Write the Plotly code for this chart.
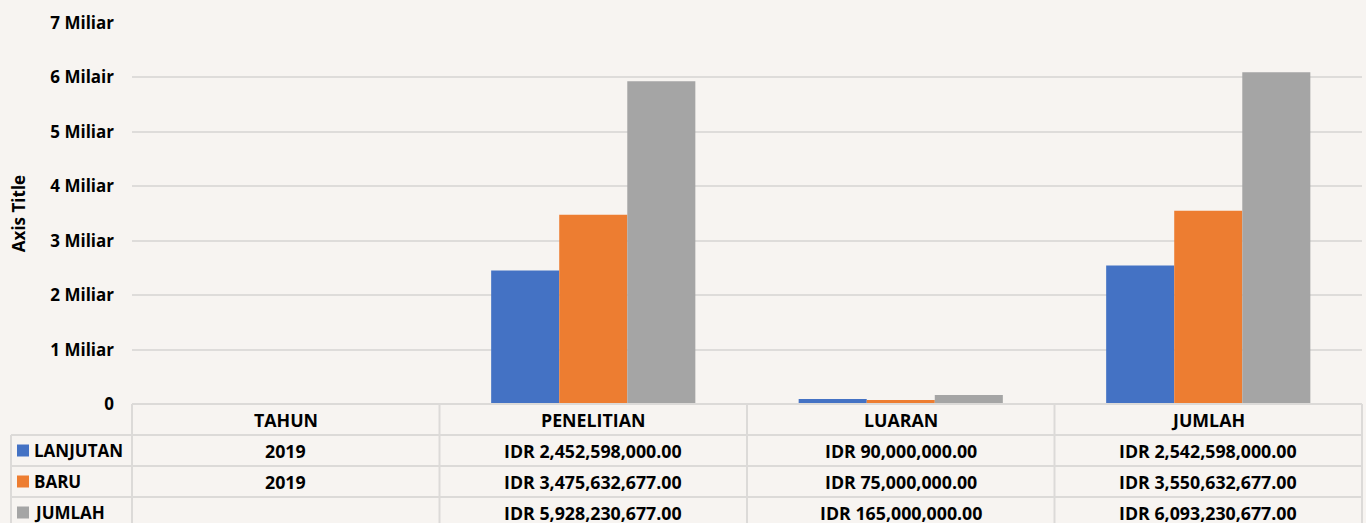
import plotly.graph_objects as go

categories = ["TAHUN", "PENELITIAN", "LUARAN", "JUMLAH"]
series_names = ["LANJUTAN", "BARU", "JUMLAH"]
lanjutan = [2019, 2452598000.00, 90000000.00, 2542598000.00]
baru = [2019, 3475632677.00, 75000000.00, 3550632677.00]
jumlah = [None, 5928230677.00, 165000000.00, 6093230677.00]
colors = ["#4472C4", "#ED7D31", "#A5A5A5"]
tick_vals = [0, 1e9, 2e9, 3e9, 4e9, 5e9, 6e9, 7e9]
tick_text = ["0", "1 Miliar", "2 Miliar", "3 Miliar", "4 Miliar", "5 Miliar", "6 Milair", "7 Miliar"]

W, H = 1366, 523
ML, MR, MT, MB = 132, 4, 23, 119
PW = W - ML - MR
PH = H - MT - MB
ROW = 31
FONT = "Open Sans"
BG = "#F7F4F1"
LINE = "#DCDAD8"


def fmt(v, is_year=False):
    if v is None:
        return ""
    if is_year:
        return str(int(v))
    return "IDR {:,.2f}".format(v)


def px_x(p):
    return (p - ML) / PW


def px_y(p):
    return (H - MB - p) / PH


fig = go.Figure()
all_series = [lanjutan, baru, jumlah]
for name, vals, c in zip(series_names, all_series, colors):
    fig.add_trace(go.Bar(x=categories, y=vals, name=name, marker=dict(color=c, line=dict(width=0))))

shapes = []
annotations = []
ncat = len(categories)
axis_px = H - MB
table_bottom = H + 5
# horizontal lines
shapes.append(dict(type="line", xref="paper", yref="paper", x0=0, x1=1,
                   y0=px_y(axis_px), y1=px_y(axis_px), line=dict(color=LINE, width=2)))
for r in range(1, 4):
    yy = px_y(axis_px + r * ROW)
    shapes.append(dict(type="line", xref="paper", yref="paper", x0=px_x(11), x1=1,
                       y0=yy, y1=yy, line=dict(color=LINE, width=2)))
# vertical lines
for i in range(ncat + 1):
    xx = i / ncat
    shapes.append(dict(type="line", xref="paper", yref="paper", x0=xx, x1=xx,
                       y0=px_y(axis_px), y1=px_y(table_bottom), line=dict(color=LINE, width=2)))
shapes.append(dict(type="line", xref="paper", yref="paper", x0=px_x(11), x1=px_x(11),
                   y0=px_y(axis_px + ROW), y1=px_y(table_bottom), line=dict(color=LINE, width=2)))

tfont = dict(family=FONT, size=17.8, color="#000000", weight="bold")
lfont = dict(family=FONT, size=17, color="#000000", weight="bold")
# header
for i, cat in enumerate(categories):
    annotations.append(dict(xref="paper", yref="paper", x=(i + 0.5) / ncat, y=px_y(axis_px + ROW / 2),
                            text=cat, showarrow=False, font=tfont, xanchor="center", yanchor="middle"))
# rows
for r, (name, vals, c) in enumerate(zip(series_names, all_series, colors)):
    yc = px_y(axis_px + ROW * (r + 1) + ROW / 2)
    shapes.append(dict(type="rect", xref="paper", yref="paper", x0=px_x(17), x1=px_x(29),
                       y0=yc - 6 / PH, y1=yc + 6 / PH, fillcolor=c, line=dict(width=0)))
    annotations.append(dict(xref="paper", yref="paper", x=px_x(32), y=yc, text=name, showarrow=False,
                            font=lfont, xanchor="left", yanchor="middle"))
    for i, v in enumerate(vals):
        annotations.append(dict(xref="paper", yref="paper", x=(i + 0.5) / ncat, y=yc,
                                text=fmt(v, categories[i] == "TAHUN"), showarrow=False, font=tfont,
                                xanchor="center", yanchor="middle"))

fig.update_layout(
    width=W, height=H,
    margin=dict(l=ML, r=MR, t=MT, b=MB, pad=0),
    paper_bgcolor=BG, plot_bgcolor=BG,
    barmode="group", bargap=0.336, bargroupgap=0,
    showlegend=False,
    font=dict(family=FONT, size=17, color="#000000", weight="bold"),
    shapes=shapes, annotations=annotations,
    xaxis=dict(showticklabels=False, showgrid=False, zeroline=False, showline=False, ticks=""),
    yaxis=dict(range=[0, 7e9], tickvals=tick_vals, ticktext=tick_text, showgrid=True,
               gridcolor="#DEDCDA", gridwidth=1.5, zeroline=False, showline=False, ticks="",
               ticklabelstandoff=17,
               title=dict(text="Axis Title", standoff=20, font=dict(family=FONT, size=17, weight="bold"))),
)
fig.write_html("out.html", config={"displayModeBar": False},
               post_script="document.body.style.margin='0';document.body.style.overflow='hidden';")
